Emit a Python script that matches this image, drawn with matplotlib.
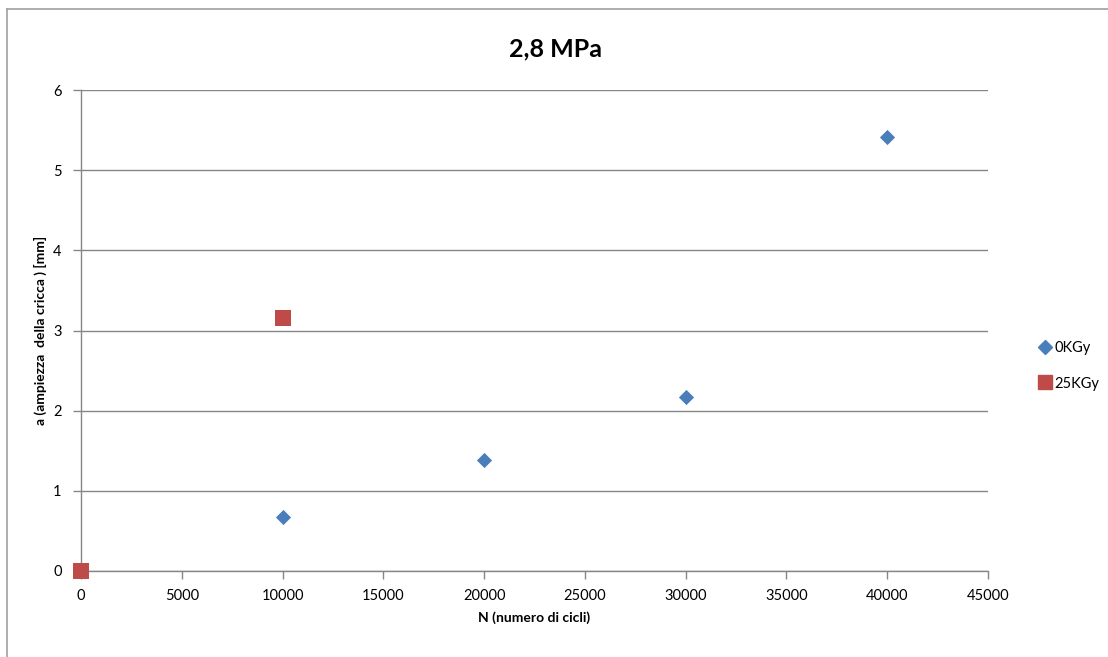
import matplotlib.pyplot as plt
from matplotlib.lines import Line2D

# Crack length vs number of cycles at 2,8 MPa
cycles_0kgy = [0, 10000, 20000, 30000, 40000]
crack_0kgy = [0.0, 0.67, 1.38, 2.17, 5.41]
cycles_25kgy = [0, 10000]
crack_25kgy = [0.0, 3.15]
x_ticks = [0, 5000, 10000, 15000, 20000, 25000, 30000, 35000, 40000, 45000]
y_ticks = [0, 1, 2, 3, 4, 5, 6]

font = ['Lato', 'DejaVu Sans']
plt.rcParams['font.family'] = font

blue = '#4a7ebb'
red = '#be4b48'
grid_gray = '#868686'

fig = plt.figure(figsize=(11.08, 6.57), dpi=100)
ax = fig.add_axes([0.0731, 0.1309, 0.8186, 0.7321])

ax.scatter(cycles_0kgy, crack_0kgy, marker='D', s=60, color=blue, zorder=3,
           linewidths=0, label='0KGy', clip_on=False)
ax.scatter(cycles_25kgy, crack_25kgy, marker='s', s=125, color=red, zorder=4,
           linewidths=0, label='25KGy', clip_on=False)

ax.set_xlim(0, 45000)
ax.set_ylim(0, 6)
ax.set_xticks(x_ticks)
ax.set_yticks(y_ticks)
ax.grid(axis='y', color=grid_gray, linewidth=1.0)
ax.set_axisbelow(True)

for side in ('top', 'right'):
    ax.spines[side].set_visible(False)
for side in ('left', 'bottom'):
    ax.spines[side].set_color(grid_gray)
    ax.spines[side].set_linewidth(1.0)

ax.tick_params(axis='x', direction='out', length=6, width=1, color=grid_gray,
               labelsize=10.5, pad=7)
ax.tick_params(axis='y', direction='out', length=6, width=1, color=grid_gray,
               labelsize=10.5, pad=8)

ax.set_xlabel('N (numero di cicli)', fontsize=10, fontweight='bold', labelpad=6)
ax.set_ylabel('a (ampiezza  della cricca ) [mm]', fontsize=10, fontweight='bold',
              labelpad=4)

fig.text(0.501, 0.925, '2,8 MPa', ha='center', va='center', fontsize=18,
         fontweight='bold')

handles = [
    Line2D([], [], marker='D', linestyle='none', color=blue, markersize=7.5),
    Line2D([], [], marker='s', linestyle='none', color=red, markersize=9.5),
]
fig.legend(handles, ['0KGy', '25KGy'], loc='center left',
           bbox_to_anchor=(0.925, 0.443), frameon=False, fontsize=10.5,
           handletextpad=0.1, labelspacing=1.45, handlelength=1.0)

# outer chart frame (top and left edges)
fig.add_artist(Line2D([0.0063, 1.0], [0.9863, 0.9863], color='#a0a0a0',
                      linewidth=1.2, transform=fig.transFigure))
fig.add_artist(Line2D([0.0063, 0.0063], [0.0, 0.9863], color='#a0a0a0',
                      linewidth=1.2, transform=fig.transFigure))

fig.savefig('out.png', dpi=100)
